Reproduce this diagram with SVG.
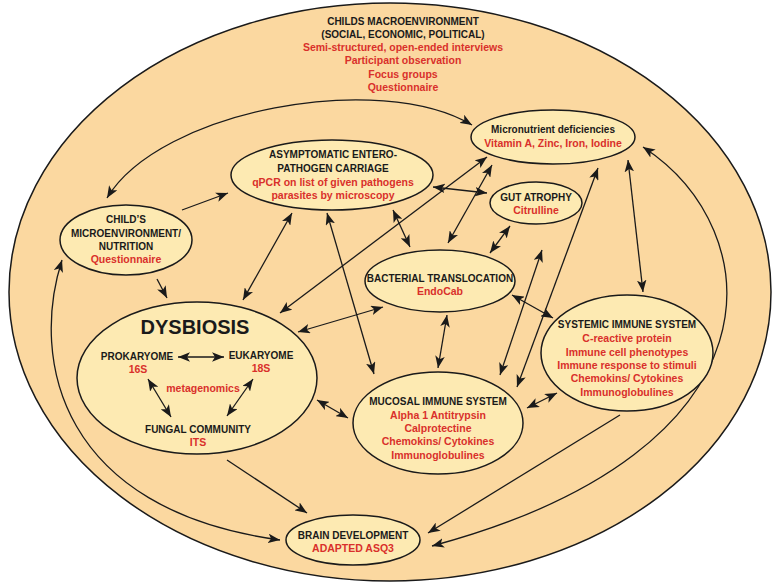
<svg xmlns="http://www.w3.org/2000/svg" width="780" height="584" viewBox="0 0 780 584">
<style>
text{font-family:"Liberation Sans",Arial,sans-serif;font-weight:bold;font-size:10px;text-anchor:middle}
.k{fill:#1a1a1a}
.r{fill:#D9302B;font-size:10.5px}
.node{fill:#FDEAB2;stroke:#1a1a1a;stroke-width:1.5}
.c{fill:none;stroke:#1a1a1a;stroke-width:1.3}
.s{marker-end:url(#ah)}
.d{marker-start:url(#ah);marker-end:url(#ah)}
</style>
<defs>
<marker id="ah" viewBox="0 0 10 8" refX="10" refY="4" markerWidth="12" markerHeight="9.6" markerUnits="userSpaceOnUse" orient="auto-start-reverse">
<path d="M0,0 L10,4 L0,8 L2.5,4 z" fill="#1a1a1a"/>
</marker>
</defs>
<rect width="780" height="584" fill="#ffffff"/>
<g id="macro">
<ellipse cx="390" cy="292" rx="381" ry="289" fill="#FBD8A0" stroke="#1a1a1a" stroke-width="1.5"/>
<text class="k" x="403" y="25">CHILDS MACROENVIRONMENT</text>
<text class="k" x="403" y="38">(SOCIAL, ECONOMIC, POLITICAL)</text>
<text class="r" x="403" y="51">Semi-structured, open-ended interviews</text>
<text class="r" x="403" y="64">Participant observation</text>
<text class="r" x="403" y="78">Focus groups</text>
<text class="r" x="403" y="91">Questionnaire</text>
</g>
<g id="connectors">
<path class="c d" d="M472,125 C380,70 160,110 107,198"/>
<path class="c d" d="M62,260 C30,360 60,510 280,540"/>
<path class="c d" d="M643,147 C770,230 790,450 432,546"/>
<line class="c s" x1="182" y1="210" x2="228" y2="193"/>
<line class="c s" x1="157" y1="279" x2="167" y2="298"/>
<line class="c d" x1="243" y1="300" x2="292" y2="213"/>
<line class="c d" x1="327" y1="213" x2="374" y2="374"/>
<line class="c d" x1="393" y1="210" x2="410" y2="247"/>
<line class="c d" x1="433" y1="187" x2="487" y2="193"/>
<line class="c d" x1="280" y1="313" x2="487" y2="157"/>
<line class="c d" x1="298" y1="332" x2="383" y2="307"/>
<line class="c d" x1="317" y1="400" x2="348" y2="418"/>
<line class="c d" x1="447" y1="315" x2="438" y2="368"/>
<line class="c d" x1="490" y1="253" x2="510" y2="226"/>
<line class="c d" x1="448" y1="243" x2="492" y2="165"/>
<line class="c d" x1="500" y1="375" x2="542" y2="250"/>
<line class="c d" x1="517" y1="387" x2="598" y2="168"/>
<line class="c d" x1="628" y1="160" x2="643" y2="292"/>
<line class="c d" x1="512" y1="295" x2="553" y2="318"/>
<line class="c d" x1="527" y1="408" x2="557" y2="393"/>
<line class="c s" x1="227" y1="460" x2="307" y2="513"/>
<line class="c s" x1="620" y1="415" x2="428" y2="533"/>
</g>
<g id="childs-micro">
<ellipse class="node" cx="126" cy="240" rx="66" ry="35"/>
<text class="k" x="126" y="223">CHILD’S</text>
<text class="k" x="126" y="237">MICROENVIRONMENT/</text>
<text class="k" x="126" y="250">NUTRITION</text>
<text class="r" x="126" y="263">Questionnaire</text>
</g>
<g id="asymptomatic">
<ellipse class="node" cx="332" cy="175" rx="101" ry="35"/>
<text class="k" x="333" y="158">ASYMPTOMATIC ENTERO-</text>
<text class="k" x="333" y="172">PATHOGEN CARRIAGE</text>
<text class="r" x="333" y="186">qPCR on list of given pathogens</text>
<text class="r" x="333" y="199">parasites by microscopy</text>
</g>
<g id="micronutrient">
<ellipse class="node" cx="553" cy="137" rx="82" ry="27"/>
<text class="k" x="553" y="133">Micronutrient deficiencies</text>
<text class="r" x="553" y="147">Vitamin A, Zinc, Iron, Iodine</text>
</g>
<g id="gut-atrophy">
<ellipse class="node" cx="536" cy="203" rx="46" ry="21"/>
<text class="k" x="536" y="201">GUT ATROPHY</text>
<text class="r" x="536" y="214">Citrulline</text>
</g>
<g id="bacterial">
<ellipse class="node" cx="440" cy="281" rx="75" ry="31"/>
<text class="k" x="440" y="282">BACTERIAL TRANSLOCATION</text>
<text class="r" x="440" y="295">EndoCab</text>
</g>
<g id="dysbiosis">
<ellipse class="node" cx="197" cy="378" rx="120" ry="76"/>
<text class="k" x="195" y="334" style="font-size:20px">DYSBIOSIS</text>
<text class="k" x="137" y="360">PROKARYOME</text>
<text class="r" x="138" y="373">16S</text>
<text class="k" x="261" y="359">EUKARYOME</text>
<text class="r" x="261" y="372">18S</text>
<text class="r" x="203" y="392">metagenomics</text>
<text class="k" x="198" y="433">FUNGAL COMMUNITY</text>
<text class="r" x="198" y="446">ITS</text>
<line class="c d" x1="178" y1="357" x2="224" y2="357"/>
<line class="c d" x1="148" y1="379" x2="171" y2="417"/>
<line class="c d" x1="253" y1="379" x2="227" y2="416"/>
</g>
<g id="mucosal">
<ellipse class="node" cx="438" cy="423" rx="85" ry="51"/>
<text class="k" x="438" y="405">MUCOSAL IMMUNE SYSTEM</text>
<text class="r" x="438" y="419">Alpha 1 Antitrypsin</text>
<text class="r" x="438" y="432">Calprotectine</text>
<text class="r" x="438" y="445">Chemokins/ Cytokines</text>
<text class="r" x="438" y="459">Immunoglobulines</text>
</g>
<g id="systemic">
<ellipse class="node" cx="627" cy="353" rx="86" ry="58"/>
<text class="k" x="627" y="328">SYSTEMIC IMMUNE SYSTEM</text>
<text class="r" x="627" y="342">C-reactive protein</text>
<text class="r" x="627" y="356">Immune cell phenotypes</text>
<text class="r" x="627" y="369">Immune response to stimuli</text>
<text class="r" x="627" y="382">Chemokins/ Cytokines</text>
<text class="r" x="627" y="396">Immunoglobulines</text>
</g>
<g id="brain">
<ellipse class="node" cx="353" cy="540" rx="67" ry="25"/>
<text class="k" x="353" y="539">BRAIN DEVELOPMENT</text>
<text class="r" x="353" y="552">ADAPTED ASQ3</text>
</g>
</svg>
